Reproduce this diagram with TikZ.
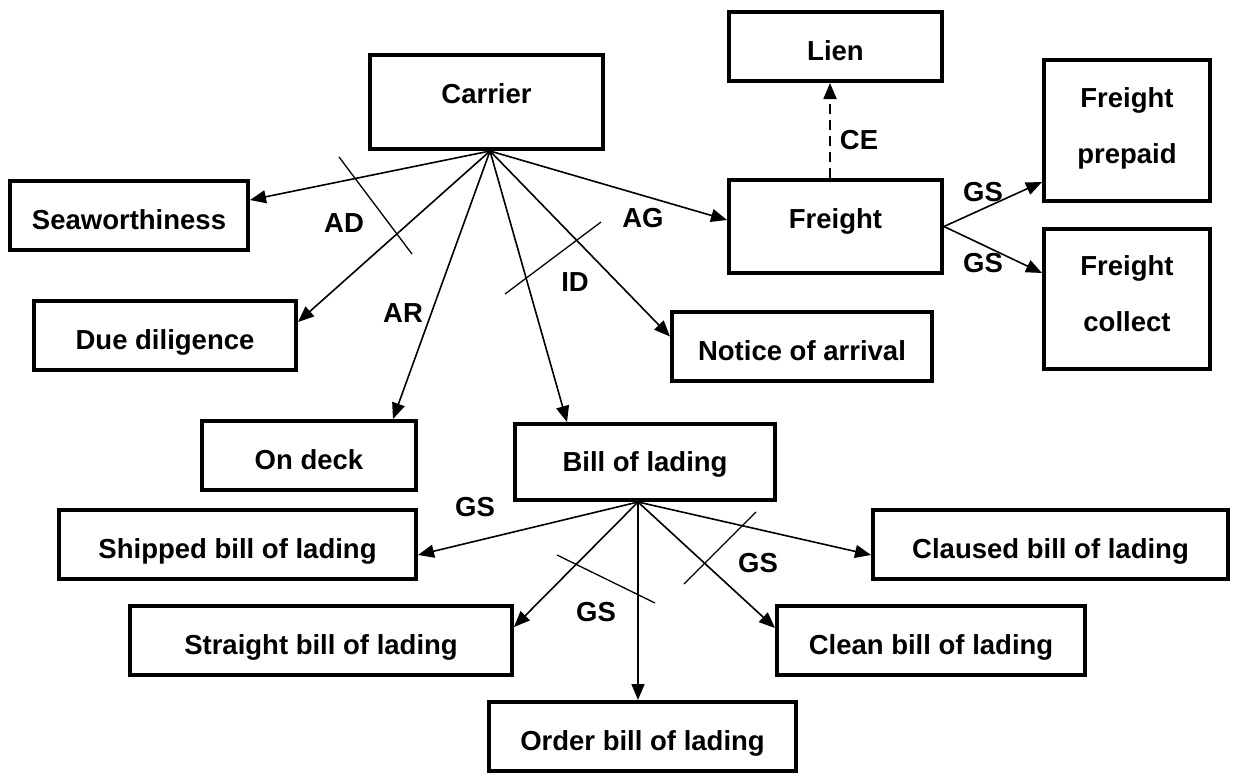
\documentclass[tikz,border=0pt]{standalone}
\usepackage{fontspec}
\setmainfont{Liberation Sans}
\usetikzlibrary{arrows.meta}
\begin{document}
\begin{tikzpicture}[x=1pt,y=-1pt,
  box/.style={draw, line width=3.6pt, inner sep=0pt, align=center,
    font=\fontsize{27.5}{56}\selectfont\bfseries, text height=27pt, text depth=0pt},
  raised/.style={text height=19.6pt, text depth=16pt},
  level/.style={text height=19.6pt, text depth=0pt},
  twoline/.style={text height=75.6pt, text depth=10pt},
  tag/.style={inner sep=0pt, font=\fontsize{27.5}{32}\selectfont\bfseries,
    text height=19.6pt, text depth=0pt},
  link/.style={line width=1.6pt, -{Triangle[length=16pt,width=13pt]}},
  bar/.style={line width=1.3pt},
]
\useasboundingbox (0,0) rectangle (1244,774);

% concept boxes
\node[box, raised, minimum width=233.4pt, minimum height=94.4pt] (carrier) at (486.5,102) {Carrier};
\node[box, minimum width=213.4pt, minimum height=69.4pt] (lien) at (835.5,46.5) {Lien};
\node[box, raised, minimum width=213.4pt, minimum height=93.4pt] (freight) at (835.5,226.5) {Freight};
\node[box, twoline, minimum width=166.4pt, minimum height=141.4pt] (prepaid) at (1127,130.5) {Freight\\prepaid};
\node[box, twoline, minimum width=166.4pt, minimum height=140.4pt] (collect) at (1127,299) {Freight\\collect};
\node[box, minimum width=260.4pt, minimum height=69.4pt] (notice) at (802,346.5) {Notice of arrival};
\node[box, minimum width=238.4pt, minimum height=69.4pt] (seaw) at (129,215.5) {Seaworthiness};
\node[box, minimum width=262.4pt, minimum height=69.4pt] (due) at (165,335.5) {Due diligence};
\node[box, minimum width=214.4pt, minimum height=69.4pt] (ondeck) at (309,455.5) {On deck};
\node[box, level, minimum width=260.4pt, minimum height=76.4pt] (bill) at (645,462) {Bill of lading};
\node[box, minimum width=357.4pt, minimum height=69.4pt] (shipped) at (237.5,544.5) {Shipped bill of lading};
\node[box, minimum width=382.4pt, minimum height=69.4pt] (straight) at (321,640.5) {Straight bill of lading};
\node[box, minimum width=307.4pt, minimum height=69.4pt] (order) at (642.5,736.5) {Order bill of lading};
\node[box, minimum width=355.4pt, minimum height=69.4pt] (claused) at (1050.5,544.5) {Claused bill of lading};
\node[box, minimum width=308.4pt, minimum height=69.4pt] (clean) at (931,640.5) {Clean bill of lading};

% fan sources
\coordinate (csrc) at ([xshift=3.5pt]carrier.south);
\coordinate (bsrc) at ([xshift=-7pt]bill.south);

% relations from the carrier
\draw[link] (csrc) -- ([yshift=15.5pt]seaw.east);
\draw[link] (csrc) -- ([yshift=13.5pt]due.east);
\draw[link] (csrc) -- ([xshift=84pt]ondeck.north);
\draw[link] (csrc) -- ([xshift=-78pt]bill.north);
\draw[link] (csrc) -- ([yshift=10pt]notice.west);
\draw[link] (csrc) -- ([yshift=6.5pt]freight.west);

% freight relations
\draw[line width=1.8pt, dash pattern=on 10pt off 6pt, -{Triangle[length=16pt,width=13pt]}]
  ([xshift=-5.5pt]freight.north) -- ([xshift=-5.5pt]lien.south);
\draw[link] (freight.east) -- ([yshift=-51.5pt]prepaid.west);
\draw[link] (freight.east) -- ([yshift=26pt]collect.west);

% kinds of bill of lading
\draw[link] (bsrc) -- ([yshift=-10.5pt]shipped.east);
\draw[link] (bsrc) -- ([yshift=13.5pt]straight.east);
\draw[link] (bsrc) -- ([xshift=-4.5pt]order.north);
\draw[link] (bsrc) -- ([yshift=12.5pt]clean.west);
\draw[link] (bsrc) -- ([yshift=-10.5pt]claused.west);

% cross bars grouping the relations
\coordinate (adA) at (339,157);  \coordinate (adB) at (412,254);
\coordinate (idA) at (505,294);  \coordinate (idB) at (601,222);
\coordinate (gsA) at (557,555);  \coordinate (gsB) at (655,603);
\coordinate (gsC) at (684,584);  \coordinate (gsD) at (756,512);
\draw[bar] (adA) -- (adB);
\draw[bar] (idA) -- (idB);
\draw[bar] (gsA) -- (gsB);
\draw[bar] (gsC) -- (gsD);

% relation labels
\node[tag] (tAD) at (344,223) {AD};
\node[tag] (tAR) at (403,313) {AR};
\node[tag] (tID) at (575,282) {ID};
\node[tag] (tAG) at (643,218) {AG};
\node[tag] (tCE) at (859,140) {CE};
\node[tag] (tGS1) at (983,192) {GS};
\node[tag] (tGS2) at (983,263) {GS};
\node[tag] (tGS3) at (475,507) {GS};
\node[tag] (tGS4) at (596,612) {GS};
\node[tag] (tGS5) at (758,563) {GS};
\end{tikzpicture}
\end{document}
